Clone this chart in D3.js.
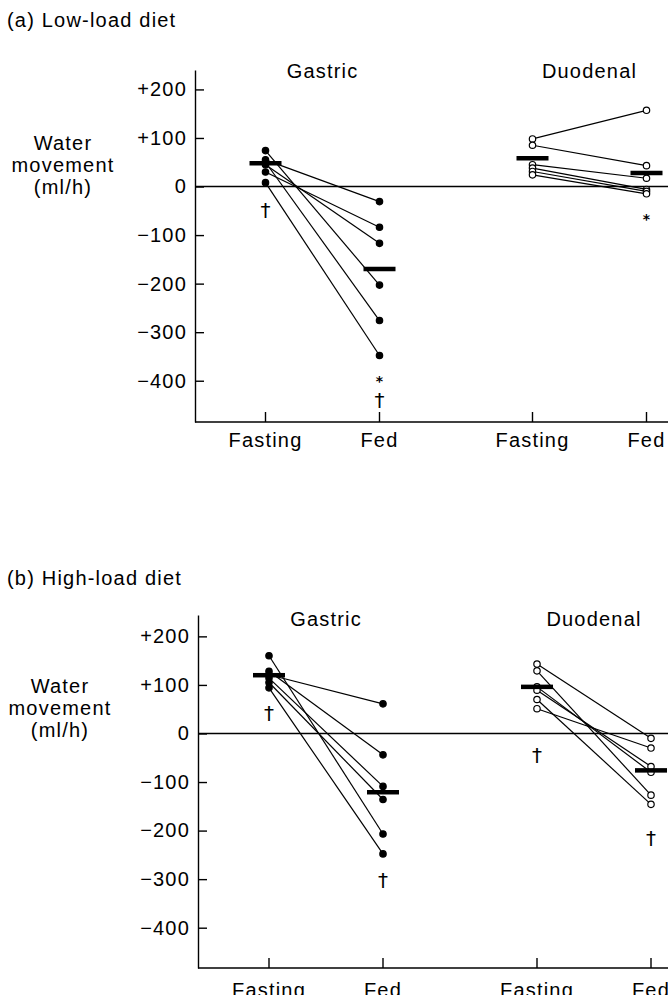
<!DOCTYPE html>
<html>
<head>
<meta charset="utf-8">
<script src="https://cdn.jsdelivr.net/npm/d3@7"></script>
<style>
  body { margin: 0; background: #fff; }
  svg { display: block; font-family: "Liberation Sans", Arial, sans-serif; }
</style>
</head>
<body>
<div id="chart"></div>
<script>
// group / condition names
const groups = ["Gastric", "Duodenal"];
const conditions = ["Fasting", "Fed"];
const yTicks = [200, 100, 0, -100, -200, -300, -400];

// (a) low-load diet, individual values (ml/h), paired by index
const lowGastricFasting = [55, 30, 45, 74, 50, 8];
const lowGastricFed = [-31, -84, -117, -203, -276, -348];
const lowDuodenalFasting = [98, 85, 45, 38, 31, 24];
const lowDuodenalFed = [157, 43, 17, -6, -10, -15];
const lowMeans = [[48, -170], [58, 28]];

// (b) high-load diet
const highGastricFasting = [160, 121, 128, 114, 105, 94];
const highGastricFed = [-207, 61, -44, -109, -136, -248];
const highDuodenalFasting = [143, 129, 96, 89, 70, 51];
const highDuodenalFed = [-10, -127, -80, -68, -146, -30];
const highMeans = [[120, -121], [96, -76]];

// significance marks: [group, condition, value, symbol]
const lowMarks = [["Gastric", "Fasting", -48, "†"], ["Gastric", "Fed", -390, "*"],
                  ["Gastric", "Fed", -440, "†"], ["Duodenal", "Fed", -57, "*"]];
const highMarks = [["Gastric", "Fasting", 42, "†"], ["Gastric", "Fed", -302, "†"],
                   ["Duodenal", "Fasting", -44, "†"], ["Duodenal", "Fed", -215, "†"]];

const W = 668, H = 995;
const FS = 20, LS = 1.2;
const svg = d3.select("#chart").append("svg").attr("width", W).attr("height", H);

const fmt = d => d > 0 ? "+" + d : d < 0 ? "\u2212" + Math.abs(d) : "0";

function drawPanel(opt) {
  const g = svg.append("g");
  const y = d3.scaleLinear().domain(opt.yDomain).range([opt.bottom, opt.top]);
  const gx = d3.scalePoint().domain(groups).range(opt.groupRange);
  const cx = d3.scalePoint().domain(conditions).range([-57, 57]);
  const xPos = (grp, cond) => gx(grp) + cx(cond);

  // panel title
  g.append("text").attr("x", 7).attr("y", opt.titleY)
    .attr("font-size", FS).attr("letter-spacing", LS).text(opt.title);

  // y axis label
  const lab = g.append("text").attr("text-anchor", "middle")
    .attr("font-size", FS).attr("letter-spacing", LS);
  ["Water", "movement", "(ml/h)"].forEach((t, i) => {
    lab.append("tspan").attr("x", opt.labelX).attr("y", opt.labelY + i * 22).text(t);
  });

  // y axis
  const yAxis = d3.axisLeft(y).tickValues(yTicks).tickFormat(fmt)
    .tickSizeInner(-9).tickSizeOuter(0).tickPadding(8);
  const ya = g.append("g").attr("transform", `translate(${opt.axisX},0)`).call(yAxis);
  ya.select(".domain").attr("stroke-width", 1.4);
  ya.selectAll(".tick line").attr("stroke-width", 1.4);
  ya.selectAll(".tick text").attr("font-size", FS).attr("letter-spacing", LS)
    .attr("font-family", "Liberation Sans, Arial, sans-serif").attr("fill", "#000");

  // x axis
  const xa = g.append("g");
  xa.append("line").attr("x1", opt.axisX).attr("x2", W)
    .attr("y1", opt.bottom).attr("y2", opt.bottom)
    .attr("stroke", "#000").attr("stroke-width", 1.4);
  groups.forEach(grp => conditions.forEach(cond => {
    xa.append("line").attr("x1", xPos(grp, cond)).attr("x2", xPos(grp, cond))
      .attr("y1", opt.bottom).attr("y2", opt.bottom - 10)
      .attr("stroke", "#000").attr("stroke-width", 1.4);
    xa.append("text").attr("x", xPos(grp, cond)).attr("y", opt.bottom + opt.xLabelDy)
      .attr("text-anchor", "middle").attr("font-size", FS).attr("letter-spacing", LS)
      .text(cond);
  }));

  // zero line
  g.append("line").attr("x1", opt.axisX).attr("x2", W)
    .attr("y1", y(0)).attr("y2", y(0)).attr("stroke", "#000").attr("stroke-width", 1.3);

  // group headers
  groups.forEach(grp => {
    g.append("text").attr("x", gx(grp)).attr("y", opt.headerY)
      .attr("text-anchor", "middle").attr("font-size", FS).attr("letter-spacing", LS)
      .text(grp);
  });

  // paired lines and points
  opt.series.forEach((s, si) => {
    const grp = groups[si];
    const pairs = s.fasting.map((v, i) => [v, s.fed[i]]);
    g.selectAll(null).data(pairs).enter().append("line")
      .attr("x1", xPos(grp, "Fasting")).attr("x2", xPos(grp, "Fed"))
      .attr("y1", d => y(d[0])).attr("y2", d => y(d[1]))
      .attr("stroke", "#000").attr("stroke-width", 1.2);
    conditions.forEach((cond, ci) => {
      g.selectAll(null).data(ci === 0 ? s.fasting : s.fed).enter().append("circle")
        .attr("cx", xPos(grp, cond)).attr("cy", d => y(d)).attr("r", 3.2)
        .attr("fill", si === 0 ? "#000" : "#fff")
        .attr("stroke", "#000").attr("stroke-width", 1.2);
    });
    // mean bars
    g.selectAll(null).data(opt.means[si]).enter().append("line")
      .attr("x1", (d, i) => xPos(grp, conditions[i]) - 16)
      .attr("x2", (d, i) => xPos(grp, conditions[i]) + 16)
      .attr("y1", d => y(d)).attr("y2", d => y(d))
      .attr("stroke", "#000").attr("stroke-width", 4.5);
  });

  // significance marks
  g.selectAll(null).data(opt.marks).enter().append("text")
    .attr("x", d => xPos(d[0], d[1])).attr("y", d => y(d[2]))
    .attr("text-anchor", "middle")
    .attr("dy", d => d[3] === "*" ? "0.7em" : "0.36em")
    .attr("font-size", d => d[3] === "*" ? 14 : 20)
    .attr("font-family", "DejaVu Sans, sans-serif")
    .attr("font-weight", d => d[3] === "*" ? "bold" : "normal")
    .attr("fill", "#000")
    .text(d => d[3]);
}

drawPanel({
  title: "(a)  Low-load diet", titleY: 27,
  labelX: 63, labelY: 150,
  axisX: 195, top: 70, bottom: 422, yDomain: [-485, 240],
  groupRange: [322.5, 589.5], headerY: 78, xLabelDy: 25,
  series: [{ fasting: lowGastricFasting, fed: lowGastricFed },
           { fasting: lowDuodenalFasting, fed: lowDuodenalFed }],
  means: lowMeans, marks: lowMarks
});

drawPanel({
  title: "(b)  High-load diet", titleY: 585,
  labelX: 60, labelY: 693,
  axisX: 198, top: 615, bottom: 968, yDomain: [-483, 244],
  groupRange: [326, 594], headerY: 626, xLabelDy: 29,
  series: [{ fasting: highGastricFasting, fed: highGastricFed },
           { fasting: highDuodenalFasting, fed: highDuodenalFed }],
  means: highMeans, marks: highMarks
});
</script>
</body>
</html>
